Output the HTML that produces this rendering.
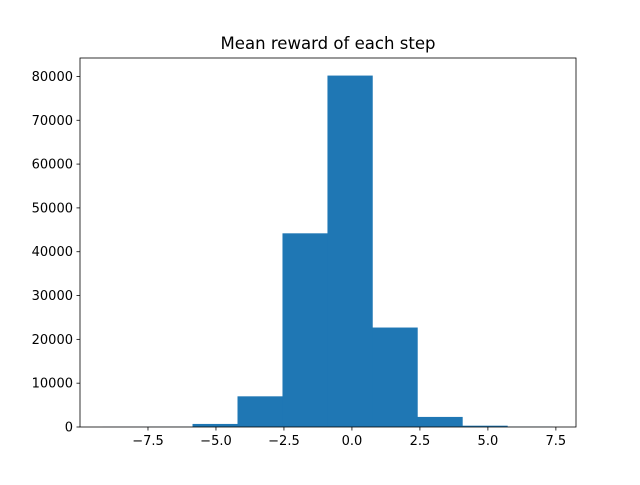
<!DOCTYPE html>
<html><head><meta charset="utf-8"><style>
body{margin:0;background:#fff}
svg text{font-family:"DejaVu Sans","Liberation Sans",sans-serif;font-size:13px;fill:#000}
</style></head><body>
<svg id="chart" width="640" height="480">
<rect width="640" height="480" fill="#fff"/>
<text x="328" y="49" text-anchor="middle" textLength="215" lengthAdjust="spacingAndGlyphs" style="font-size:16.5px">Mean reward of each step</text>
<g id="bars"></g>
<rect x="80" y="58" width="496" height="369" fill="none" stroke="#000" stroke-width="0.8"/>
<g id="xticks"></g><g id="yticks"></g>
</svg>
<script>
const binStart = -9.17;
const binWidth = 1.654;
const counts = [20, 40, 700, 7000, 44200, 80200, 22700, 2300, 300, 50];
const xTickValues = [-7.5, -5.0, -2.5, 0.0, 2.5, 5.0, 7.5];
const xTickLabels = ["\u22127.5", "\u22125.0", "\u22122.5", "0.0", "2.5", "5.0", "7.5"];
const yTickValues = [0, 10000, 20000, 30000, 40000, 50000, 60000, 70000, 80000];

const NS = "http://www.w3.org/2000/svg";
const xMin = -10.0, xMax = 8.24, yMax = 84210;
const L = 80, R = 576, T = 58, B = 427;
const xs = v => L + (v - xMin) / (xMax - xMin) * (R - L);
const ys = v => B - v / yMax * (B - T);
function mk(tag, attrs, parent){const e=document.createElementNS(NS,tag);for(const k in attrs)e.setAttribute(k,attrs[k]);parent.appendChild(e);return e;}
const bars = document.getElementById('bars');
counts.forEach((c,i)=>{
  const x0 = xs(binStart + i*binWidth), x1 = xs(binStart + (i+1)*binWidth);
  const r = mk('rect',{x:x0,y:ys(c),width:x1-x0+0.3,height:B-ys(c),fill:'#1f77b4'},bars);
  
  
});
const xg = document.getElementById('xticks');
xTickValues.forEach((v,i)=>{
  const x = xs(v);
  const l = mk('line',{x1:x,x2:x,y1:B,y2:B+3.5,stroke:'#000','stroke-width':0.8},xg);
  
  
  const t = mk('text',{x:x,y:B+18,'text-anchor':'middle'},xg);
  t.textContent = xTickLabels[i];
  
  
});
const yg = document.getElementById('yticks');
yTickValues.forEach(v=>{
  const y = ys(v);
  const l = mk('line',{x1:L-3.5,x2:L,y1:y,y2:y,stroke:'#000','stroke-width':0.8},yg);
  
  
  const t = mk('text',{x:L-7,y:y+4.5,'text-anchor':'end'},yg);
  t.textContent = String(v);
  
  
});
</script>
</body></html>
